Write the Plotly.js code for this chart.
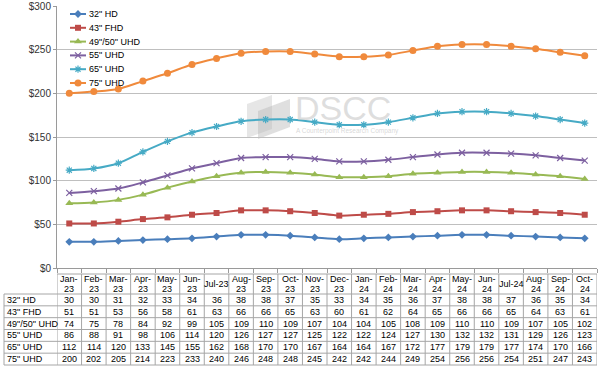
<!DOCTYPE html>
<html><head><meta charset="utf-8">
<script src="https://cdn.plot.ly/plotly-3.0.1.min.js"></script>
<style>html,body{margin:0;padding:0;background:#fff}#chart{width:600px;height:372px}</style>
</head><body><div id="chart"></div>
<script>
// ---- data ----
const categories = ["Jan-23","Feb-23","Mar-23","Apr-23","May-23","Jun-23","Jul-23","Aug-23","Sep-23","Oct-23","Nov-23","Dec-23","Jan-24","Feb-24","Mar-24","Apr-24","May-24","Jun-24","Jul-24","Aug-24","Sep-24","Oct-24"];
const seriesNames = ['32" HD','43" FHD','49"/50" UHD','55" UHD','65" UHD','75" UHD'];
const hd32    = [30,30,31,32,33,34,36,38,38,37,35,33,34,35,36,37,38,38,37,36,35,34];
const fhd43   = [51,51,53,56,58,61,63,66,66,65,63,60,61,62,64,65,66,66,65,64,63,61];
const uhd4950 = [74,75,78,84,92,99,105,109,110,109,107,104,104,105,108,109,110,110,109,107,105,102];
const uhd55   = [86,88,91,98,106,114,120,126,127,127,125,122,122,124,127,130,132,132,131,129,126,123];
const uhd65   = [112,114,120,133,145,155,162,168,170,170,167,164,164,167,172,177,179,179,177,174,170,166];
const uhd75   = [200,202,205,214,223,233,240,246,248,248,245,242,242,244,249,254,256,256,254,251,247,243];
const yTickVals = [0,50,100,150,200,250,300];
const yTickText = ["$0","$50","$100","$150","$200","$250","$300"];
const watermarkText = "DSCC";
const watermarkSub = "A Counterpoint Research Company";

// ---- styles ----
const allSeries = [hd32, fhd43, uhd4950, uhd55, uhd65, uhd75];
const colors = ["#4A7EBB","#BE4B48","#98B954","#7D60A0","#46AAC5","#F08A3C"];
const symbols = ["diamond","square","triangle-up","x-thin-open","asterisk-open","circle"];
const sizes = [6,6,7,6,6,7];

const W = 600, H = 372;
const PL = 57, PR = 597, PT = 6, PB = 268;
const py = p => 1 - p / H;
const px = p => p / W;
const FONT = "Liberation Sans, Arial, sans-serif";
const gridCol = "#BFBFBF", axisCol = "#9A9A9A", tblCol = "#A6A6A6";

function mk(i, extra) {
  const m = {symbol: symbols[i], size: sizes[i], color: colors[i], line: {color: colors[i], width: 0}};
  if (symbols[i].indexOf("open") >= 0) m.line.width = 1.2;
  return Object.assign(m, extra || {});
}

const traces = allSeries.map((vals, i) => ({
  type: "scatter", mode: "lines+markers", name: seriesNames[i],
  x: categories, y: vals, xaxis: "x", yaxis: "y",
  line: {color: colors[i], width: 2, shape: "spline", smoothing: 0.8},
  marker: mk(i), showlegend: false, hoverinfo: "x+y+name"
}));

// manual legend (pixel overlay axes)
const annotations = [];
seriesNames.forEach((nm, i) => {
  const yy = 14 + i * 13.8;
  traces.push({
    type: "scatter", mode: "lines+markers", xaxis: "x2", yaxis: "y2",
    x: [70, 78, 86], y: [yy, yy, yy], showlegend: false, hoverinfo: "skip",
    line: {color: colors[i], width: 2},
    marker: mk(i, {opacity: [0, 1, 0]})
  });
  annotations.push({xref: "paper", yref: "paper", x: px(87), y: py(yy), xanchor: "left", yanchor: "middle",
    text: nm, showarrow: false, font: {family: FONT, size: 9, color: "#000"}});
});

// ---- data table (shapes + annotations) ----
const shapes = [];
const hdrTop = 274, hdrBot = 294, rowH = (365 - 294) / 6, tblBot = 365, tblLeft = 4;
shapes.push({type: "line", xref: "paper", yref: "paper", x0: px(PL), x1: px(PR), y0: py(hdrTop), y1: py(hdrTop), line: {color: tblCol, width: 1}});
for (let r = 0; r <= 6; r++) {
  const yy = hdrBot + r * rowH;
  shapes.push({type: "line", xref: "paper", yref: "paper", x0: px(tblLeft), x1: px(PR), y0: py(yy), y1: py(yy), line: {color: tblCol, width: 1}});
}
shapes.push({type: "line", xref: "paper", yref: "paper", x0: px(tblLeft), x1: px(tblLeft), y0: py(hdrBot), y1: py(tblBot), line: {color: tblCol, width: 1}});
for (let k = 0; k <= categories.length; k++) {
  shapes.push({type: "line", xref: "x", yref: "paper", x0: k - 0.5, x1: k - 0.5, y0: py(hdrTop), y1: py(tblBot), line: {color: tblCol, width: 1}});
}
categories.forEach((c, k) => {
  const parts = c.split("-");
  if (parts[0] === "Jul") {
    annotations.push({xref: "x", yref: "paper", x: k, y: py((hdrTop + hdrBot) / 2), text: c, showarrow: false,
      xanchor: "center", yanchor: "middle", font: {family: FONT, size: 9, color: "#000"}});
  } else {
    annotations.push({xref: "x", yref: "paper", x: k, y: py(279), text: parts[0] + "-", showarrow: false,
      xanchor: "center", yanchor: "middle", font: {family: FONT, size: 9, color: "#000"}});
    annotations.push({xref: "x", yref: "paper", x: k, y: py(288.5), text: parts[1], showarrow: false,
      xanchor: "center", yanchor: "middle", font: {family: FONT, size: 9, color: "#000"}});
  }
});
allSeries.forEach((vals, r) => {
  const yc = hdrBot + rowH * (r + 0.5);
  annotations.push({xref: "paper", yref: "paper", x: px(tblLeft + 1), y: py(yc), text: seriesNames[r], showarrow: false,
    xanchor: "left", yanchor: "middle", font: {family: FONT, size: 9, color: "#000"}});
  vals.forEach((v, k) => {
    annotations.push({xref: "x", yref: "paper", x: k, y: py(yc), text: String(v), showarrow: false,
      xanchor: "center", yanchor: "middle", font: {family: FONT, size: 9, color: "#000"}});
  });
});

// ---- watermark ----
const poly = pts => "M" + pts.map(p => px(p[0]) + "," + py(p[1])).join(" L") + " Z";
shapes.push({type: "path", xref: "paper", yref: "paper", layer: "below", path: poly([[247,104],[272,95],[272,129],[247,138]]),
  fillcolor: "rgba(200,200,200,0.45)", line: {width: 0}});
shapes.push({type: "path", xref: "paper", yref: "paper", layer: "below", path: poly([[258,111],[290,99],[290,127],[258,139]]),
  fillcolor: "rgba(185,185,185,0.45)", line: {width: 0}});
annotations.push({xref: "paper", yref: "paper", x: px(293), y: py(108), xanchor: "left", yanchor: "middle",
  text: watermarkText, showarrow: false, font: {family: FONT, size: 34, color: "rgba(200,200,200,0.6)"}});
annotations.push({xref: "paper", yref: "paper", x: px(294), y: py(131), xanchor: "left", yanchor: "middle",
  text: watermarkSub, showarrow: false, font: {family: FONT, size: 6.5, color: "rgba(200,200,200,0.7)"}});

const layout = {
  width: W, height: H, autosize: false,
  margin: {l: 0, r: 0, t: 0, b: 0, pad: 0},
  paper_bgcolor: "#fff", plot_bgcolor: "rgba(0,0,0,0)",
  showlegend: false,
  font: {family: FONT, size: 10, color: "#333"},
  xaxis: {
    type: "category", domain: [px(PL), px(PR)], anchor: "y",
    range: [-0.5, categories.length - 0.5],
    showticklabels: false, ticks: "outside", tickson: "boundaries", ticklen: 4, tickcolor: axisCol, tickwidth: 1,
    showline: true, linecolor: axisCol, linewidth: 1, showgrid: false, zeroline: false, fixedrange: true
  },
  yaxis: {
    domain: [py(PB), py(PT)], anchor: "x", range: [0, 300],
    tickmode: "array", tickvals: yTickVals, ticktext: yTickText, tickfont: {family: FONT, size: 10, color: "#333"},
    ticks: "outside", ticklen: 3, tickcolor: axisCol, showline: true, linecolor: axisCol, linewidth: 1,
    showgrid: true, gridcolor: gridCol, gridwidth: 1, zeroline: false, fixedrange: true
  },
  xaxis2: {domain: [0, 1], anchor: "y2", range: [0, W], visible: false, fixedrange: true},
  yaxis2: {domain: [0, 1], anchor: "x2", range: [H, 0], visible: false, fixedrange: true},
  shapes: shapes,
  annotations: annotations
};

Plotly.newPlot("chart", traces, layout, {displayModeBar: false, staticPlot: true});
</script>
</body></html>
